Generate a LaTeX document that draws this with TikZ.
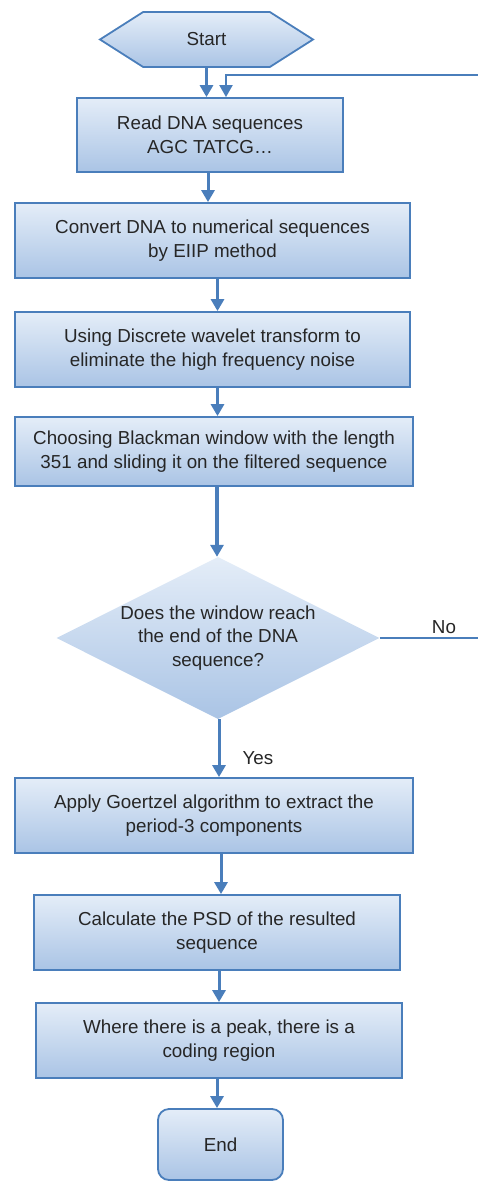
\documentclass[tikz,border=0pt]{standalone}
\usepackage{fontspec}
\setmainfont{Liberation Sans}
\usetikzlibrary{arrows.meta,shapes.geometric,shapes.symbols}
\definecolor{edgeblue}{HTML}{4A7EBB}
\definecolor{filltop}{HTML}{E4EDF8}
\definecolor{fillbot}{HTML}{AAC4E5}
\definecolor{txt}{HTML}{262626}

\begin{document}
\begin{tikzpicture}[x=1pt,y=-1pt,
  every node/.style={font=\fontsize{18.8}{23.5}\selectfont,text=txt,align=center},
  stepbox/.style={draw=edgeblue,line width=1.8pt,top color=filltop,bottom color=fillbot,inner sep=0pt},
  arr/.style={edgeblue,line width=3pt,-{Triangle[length=12pt,width=13pt]}},
  link/.style={edgeblue,line width=2pt}]
\useasboundingbox (0,0) rectangle (477,1182);
\node[stepbox,shape=signal,signal to=west and east,signal pointer angle=65,minimum width=213pt,minimum height=55pt] (start) at (206.5,39.5) {Start};
\node[stepbox,minimum width=266pt,minimum height=74pt] (read) at (210,135) {Read DNA sequences\\AGC TATCG…};
\node[stepbox,minimum width=395pt,minimum height=75pt] (conv) at (212.5,240.5) {Convert DNA to numerical sequences\\by EIIP method};
\node[stepbox,minimum width=395pt,minimum height=75pt] (dwt) at (212.5,349.5) {Using Discrete wavelet transform to\\eliminate the high frequency noise};
\node[stepbox,minimum width=398pt,minimum height=69pt] (window) at (214,451.5) {Choosing Blackman window with the length\\351 and sliding it on the filtered sequence};
\node[draw=none,shape=diamond,aspect=2,top color=filltop,bottom color=fillbot,inner sep=-12pt,minimum width=323pt,minimum height=162pt] (reach) at (218,638) {Does the window reach\\the end of the DNA\\sequence?};
\node[stepbox,minimum width=398pt,minimum height=75pt] (goertzel) at (214,815.5) {Apply Goertzel algorithm to extract the\\period-3 components};
\node[stepbox,minimum width=366pt,minimum height=75pt] (psd) at (217,932.5) {Calculate the PSD of the resulted\\sequence};
\node[stepbox,minimum width=366pt,minimum height=75pt] (peak) at (219,1040.5) {Where there is a peak, there is a\\coding region};
\node[stepbox,rounded corners=11pt,minimum width=125pt,minimum height=71pt] (end) at (220.5,1144.5) {End};
\node (no) at (444,627) {No};
\node (yes) at (258,758) {Yes};
\coordinate (back) at (482,75);
\draw[arr] (start.south) -- (start.south |- read.north);
\draw[link] (reach.east) -| (back);
\draw[arr,line width=2pt] (back) -| ([xshift=16pt]read.north);
\draw[arr] ([xshift=-2pt]read.south) -- ([xshift=-2pt]read.south |- conv.north);
\draw[arr] ([xshift=5pt]conv.south) -- ([xshift=5pt]conv.south |- dwt.north);
\draw[arr] ([xshift=5pt]dwt.south) -- ([xshift=5pt]dwt.south |- window.north);
\draw[arr,line width=3.5pt] ([xshift=3pt]window.south) -- ([xshift=3pt]window.south |- reach.north);
\draw[arr] ([xshift=1pt]reach.south) -- ([xshift=1pt]reach.south |- goertzel.north);
\draw[arr] ([xshift=7pt]goertzel.south) -- ([xshift=7pt]goertzel.south |- psd.north);
\draw[arr] ([xshift=2pt]psd.south) -- ([xshift=2pt]psd.south |- peak.north);
\draw[arr] ([xshift=-2pt]peak.south) -- ([xshift=-2pt]peak.south |- end.north);
\end{tikzpicture}
\end{document}
